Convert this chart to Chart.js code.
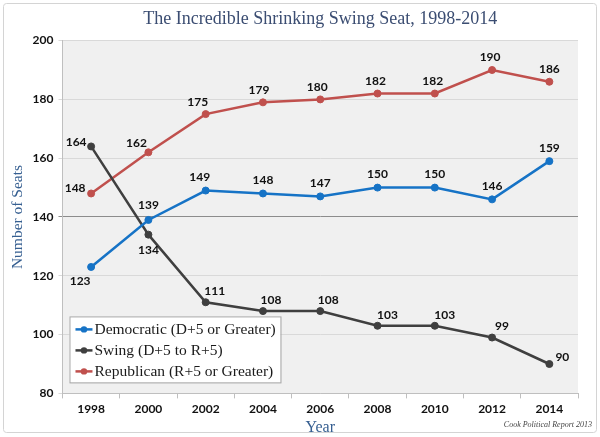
<!DOCTYPE html>
<html>
<head>
<meta charset="utf-8">
<script src="https://cdn.jsdelivr.net/npm/chart.js@4"></script>
<style>
  body { margin: 0; background: #fff; }
  #wrap { width: 600px; height: 437px; position: relative; }
</style>
</head>
<body>
<div id="wrap"><canvas id="swingChart"></canvas></div>
<script>
const years = ['1998', '2000', '2002', '2004', '2006', '2008', '2010', '2012', '2014'];
const democratic = [123, 139, 149, 148, 147, 150, 150, 146, 159];
const swing = [164, 134, 111, 108, 108, 103, 103, 99, 90];
const republican = [148, 162, 175, 179, 180, 182, 182, 190, 186];
const yTicks = [80, 100, 120, 140, 160, 180, 200];

const serif = '"Liberation Serif", "DejaVu Serif", serif';
const sans = 'Lato, "Open Sans", sans-serif';

// where each value label sits relative to its point
const labelOffsets = [
  [[-11, 14], [0, -15], [-6, -13], [0, -13], [0, -13], [0, -13], [0, -13], [0, -13], [0, -13]],
  [[-15, -4], [0, 15], [9, -11], [8, -11], [8, -11], [10, -11], [10, -11], [10, -11], [13, -7]],
  [[-16, -5], [-12, -9], [-8, -12], [-4, -12], [-3, -12], [-2, -12], [-2, -12], [-2, -13], [0, -13]]
];

const bgPlugin = {
  id: 'bg',
  beforeDraw(chart) {
    const { ctx, chartArea: a } = chart;
    ctx.save();
    ctx.fillStyle = '#f0f0f0';
    ctx.fillRect(a.left, a.top, a.right - a.left, a.bottom - a.top);
    ctx.strokeStyle = '#d4d4d4';
    ctx.lineWidth = 1;
    ctx.beginPath();
    ctx.roundRect(3.5, 3.5, 593, 429, 3);
    ctx.stroke();
    ctx.restore();
  }
};

const labelPlugin = {
  id: 'valueLabels',
  afterDatasetsDraw(chart) {
    const ctx = chart.ctx;
    ctx.save();
    ctx.font = 'bold 12px ' + sans;
    ctx.fillStyle = '#111';
    ctx.textAlign = 'center';
    ctx.textBaseline = 'middle';
    chart.data.datasets.forEach((ds, i) => {
      chart.getDatasetMeta(i).data.forEach((pt, j) => {
        const off = labelOffsets[i][j];
        ctx.fillText(ds.data[j], pt.x + off[0], pt.y + off[1]);
      });
    });
    // legend box inside the plot
    const a = chart.chartArea;
    const lx = a.left + 7, ly = a.bottom - 77, lw = 211, lh = 66;
    ctx.fillStyle = '#fff';
    ctx.fillRect(lx, ly, lw, lh);
    ctx.strokeStyle = '#a6a6a6';
    ctx.lineWidth = 1;
    ctx.strokeRect(lx + 0.5, ly + 0.5, lw, lh);
    ctx.font = '15.5px ' + serif;
    ctx.textAlign = 'left';
    chart.data.datasets.forEach((ds, i) => {
      const y = ly + 13 + i * 21;
      ctx.strokeStyle = ds.borderColor;
      ctx.lineWidth = 2.5;
      ctx.beginPath();
      ctx.moveTo(lx + 6, y);
      ctx.lineTo(lx + 23, y);
      ctx.stroke();
      ctx.fillStyle = ds.borderColor;
      ctx.beginPath();
      ctx.arc(lx + 14.5, y, 3.2, 0, Math.PI * 2);
      ctx.fill();
      ctx.fillStyle = '#1a1a1a';
      ctx.fillText(ds.label, lx + 25, y + 1);
    });
    // source note
    ctx.font = 'italic 8px ' + serif;
    ctx.fillStyle = '#444';
    ctx.textAlign = 'right';
    ctx.fillText('Cook Political Report 2013', 592, 425);
    ctx.restore();
  }
};

function series(label, data, color) {
  return {
    label: label,
    data: data,
    borderColor: color,
    backgroundColor: color,
    borderWidth: 2.5,
    pointRadius: 3.5,
    pointHoverRadius: 3.5,
    pointBorderWidth: 1,
    tension: 0
  };
}

new Chart(document.getElementById('swingChart'), {
  type: 'line',
  data: {
    labels: years,
    datasets: [
      series('Democratic (D+5 or Greater)', democratic, '#1673c6'),
      series('Swing (D+5 to R+5)', swing, '#3f3f3f'),
      series('Republican (R+5 or Greater)', republican, '#c0504d')
    ]
  },
  options: {
    responsive: true,
    maintainAspectRatio: false,
    animation: false,
    layout: { padding: { left: 9, right: 22, top: 0, bottom: 0 } },
    plugins: {
      legend: { display: false },
      tooltip: { enabled: false },
      title: {
        display: true,
        fullSize: false,
        text: 'The Incredible Shrinking Swing Seat, 1998-2014',
        color: '#3b4d72',
        font: { family: serif, size: 18, weight: 'normal' },
        padding: { top: 8, bottom: 11 }
      }
    },
    scales: {
      x: {
        offset: true,
        grid: { offset: true, drawOnChartArea: false, tickLength: 5, color: '#bfbfbf' },
        border: { color: '#bfbfbf' },
        ticks: { color: '#111', font: { family: sans, size: 12, weight: 'bold' }, padding: 4 },
        title: {
          display: true, text: 'Year', color: '#365f91',
          font: { family: serif, size: 16 }, padding: { top: -3, bottom: 0 }
        }
      },
      y: {
        min: 80,
        max: 200,
        afterBuildTicks(scale) { scale.ticks = yTicks.map(v => ({ value: v })); },
        grid: {
          tickLength: 4,
          color: c => c.tick && c.tick.value === 140 ? '#8c8c8c' : '#d9d9d9'
        },
        border: { color: '#bfbfbf' },
        ticks: { color: '#111', font: { family: sans, size: 12, weight: 'bold' }, padding: 5 },
        title: {
          display: true, text: 'Number of Seats', color: '#365f91',
          font: { family: serif, size: 15.5 }, padding: { top: 0, bottom: 0 }
        }
      }
    }
  },
  plugins: [bgPlugin, labelPlugin]
});
</script>
</body>
</html>
